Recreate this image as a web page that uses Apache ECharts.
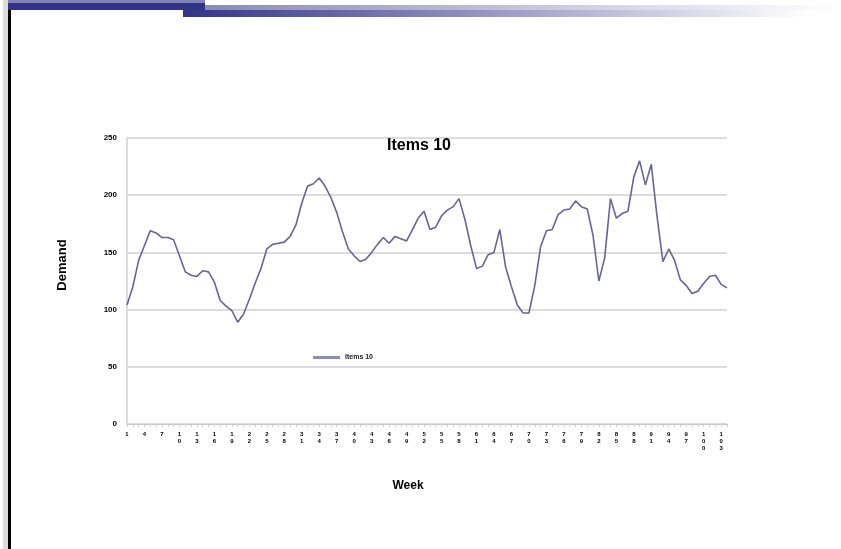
<!DOCTYPE html>
<html><head><meta charset="utf-8">
<script src="https://cdn.jsdelivr.net/npm/echarts@6/dist/echarts.min.js"></script>
<style>html,body{margin:0;padding:0;background:#fff}#c{width:841px;height:549px}</style>
</head><body><div id="c"></div>
<script>
const chartTitle = 'Items 10';
const seriesName = 'Items 10';
const xAxisName = 'Week';
const yAxisName = 'Demand';
const weeks = [1,2,3,4,5,6,7,8,9,10,11,12,13,14,15,16,17,18,19,20,
  21,22,23,24,25,26,27,28,29,30,31,32,33,34,35,36,37,38,39,40,
  41,42,43,44,45,46,47,48,49,50,51,52,53,54,55,56,57,58,59,60,
  61,62,63,64,65,66,67,68,69,70,71,72,73,74,75,76,77,78,79,80,
  81,82,83,84,85,86,87,88,89,90,91,92,93,94,95,96,97,98,99,100,
  101,102,103,104];
const demand = [104,120,143,156,169,167,163,163,161,147,
  133,130,129,134,133,124,108,103,99,89,
  96,109,123,136,153,157,158,159,164,174,
  193,208,210,215,208,198,185,168,153,147,
  142,144,150,157,163,158,164,162,160,170,
  180,186,170,172,182,187,190,197,179,156,
  136,138,148,150,170,137,120,104,97,97,
  121,155,169,170,183,187,188,195,190,188,
  165,125,145,197,180,184,186,216,230,209,
  227,181,142,153,143,126,121,114,116,123,
  129,130,122,119];
const yTicks = [0,50,100,150,200,250];

const chart = echarts.init(document.getElementById('c'), null, {renderer:'canvas'});
const font = 'Liberation Sans';
chart.setOption({
  animation:false,
  backgroundColor:'#ffffff',
  graphic:[
    {type:'rect', shape:{x:3,y:0,width:5,height:549}, style:{fill:'#dcdcdc'}},
    {type:'rect', shape:{x:8,y:0,width:3,height:549}, style:{fill:'#000000'}},
    {type:'rect', shape:{x:205,y:5,width:636,height:5}, style:{fill:new echarts.graphic.LinearGradient(0,0,1,0,[{offset:0,color:'#8a8abb'},{offset:1,color:'#ffffff'}])}},
    {type:'rect', shape:{x:183,y:10,width:658,height:7}, style:{fill:new echarts.graphic.LinearGradient(0,0,1,0,[{offset:0,color:'#333388'},{offset:0.95,color:'#ffffff'}])}},
    {type:'rect', shape:{x:8,y:0,width:197,height:3}, style:{fill:'#8484b4'}},
    {type:'rect', shape:{x:8,y:3,width:197,height:7}, style:{fill:'#333388'}}
  ],
  title:{
    text:chartTitle, left:414, top:133, textAlign:'center',
    textStyle:{fontFamily:font, fontSize:16, fontWeight:'bold', color:'#000'}
  },
  legend:{
    left:308, top:349, data:[seriesName],
    icon:'rect', itemWidth:27, itemHeight:3, itemGap:4,
    textStyle:{fontFamily:font, fontSize:7, color:'#222', fontWeight:'bold'}
  },
  grid:{left:127, right:114, top:138, bottom:125, containLabel:false},
  xAxis:{
    type:'category', data:weeks, boundaryGap:false,
    name:xAxisName, nameLocation:'middle', nameGap:56,
    nameTextStyle:{fontFamily:font, fontSize:12, fontWeight:'bold', color:'#000', padding:[0,38,0,0]},
    axisLine:{lineStyle:{color:'#c8c8c8', width:1}},
    axisTick:{show:true, interval:0, length:3, lineStyle:{color:'#d0d0d0'}},
    axisLabel:{
      interval:2, margin:7, fontFamily:font, fontSize:6, lineHeight:7,
      fontWeight:'bold', color:'#000',
      formatter:function(v){return String(v).split('').join('\n');}
    },
    splitLine:{show:false}
  },
  yAxis:{
    type:'value', min:0, max:250, interval:50,
    name:yAxisName, nameLocation:'middle', nameGap:58, nameRotate:90,
    nameTextStyle:{fontFamily:font, fontSize:13, fontWeight:'bold', color:'#000', padding:[0,0,0,32]},
    axisLine:{show:true, lineStyle:{color:'#dcdcdc', width:2}},
    axisTick:{show:false},
    axisLabel:{margin:10, fontFamily:font, fontSize:8, fontWeight:'bold', color:'#000',
      formatter:function(v){return yTicks.indexOf(v)>=0 ? String(v) : '';}},
    splitLine:{lineStyle:{color:'#dcdcdc', width:2}}
  },
  series:[{
    name:seriesName, type:'line', data:demand, showSymbol:false, symbol:'none',
    lineStyle:{color:'#65659a', width:1.6}, itemStyle:{color:'#8c8cbc'}
  }]
});
</script></body></html>
